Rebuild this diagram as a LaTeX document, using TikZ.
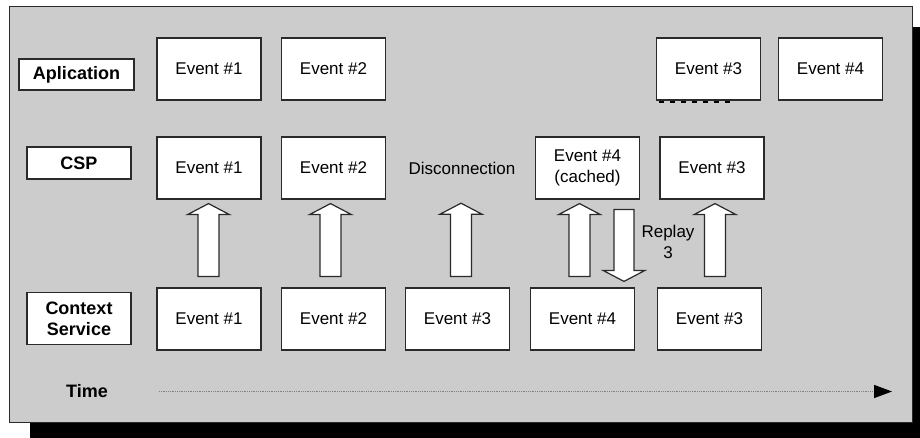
\documentclass[tikz,border=0pt]{standalone}
\usepackage{fontspec}
\setmainfont{Liberation Sans}
\usetikzlibrary{calc,arrows.meta}

\definecolor{panelgray}{HTML}{CCCCCC}
\definecolor{edge}{HTML}{2A2A2A}

\tikzset{
  evbox/.style={draw=edge, fill=white, line width=1.2pt, inner sep=0pt,
    minimum width=104pt, minimum height=62pt, align=center,
    font=\fontsize{17}{20.5}\selectfont},
  lbl/.style={draw=edge, fill=white, line width=1.2pt, inner sep=0pt,
    align=center, font=\fontsize{18}{21}\selectfont\bfseries},
  plaintext/.style={inner sep=0pt, align=center, font=\fontsize{17}{20.5}\selectfont},
  blockarr/.style={draw=edge, fill=white, line width=1.2pt, line join=miter},
  timeline/.style={draw=black!50, line width=1.5pt, dash pattern=on 1pt off 0.8pt,
    -{Triangle[length=18pt,width=13pt,color=black]}},
}

% upward block arrow at horizontal position #1 from node #2 up to node #3
\newcommand{\blkup}[3]{%
  \draw[blockarr] let \p1=(#2.north), \p2=(#3.south) in
    ({#1pt-10.5pt},{\y1+11pt}) -- ({#1pt-10.5pt},{\y2-15pt})
    -- ({#1pt-21pt},{\y2-15pt}) -- ({#1pt},{\y2-4pt})
    -- ({#1pt+21pt},{\y2-15pt}) -- ({#1pt+10.5pt},{\y2-15pt})
    -- ({#1pt+10.5pt},{\y1+11pt}) -- cycle;}

% downward block arrow at horizontal position #1 from node #2 down to node #3
\newcommand{\blkdown}[3]{%
  \draw[blockarr] let \p1=(#2.south), \p2=(#3.north) in
    ({#1pt-10pt},{\y1-10pt}) -- ({#1pt+10pt},{\y1-10pt})
    -- ({#1pt+10pt},{\y2+17pt}) -- ({#1pt+21pt},{\y2+17pt})
    -- ({#1pt},{\y2+6pt}) -- ({#1pt-21pt},{\y2+17pt})
    -- ({#1pt-10pt},{\y2+17pt}) -- cycle;}

\begin{document}
\begin{tikzpicture}[x=1pt, y=-1pt]
  \useasboundingbox (0,0) rectangle (920,438);
  \fill[white] (0,0) rectangle (920,438);

  % drop shadow and grey panel
  \fill[black] (30,27) rectangle (920,438);
  \filldraw[fill=panelgray, draw=edge, line width=1pt] (9,7) rectangle (912,422);

  % row labels
  \node[lbl, minimum width=115pt, minimum height=31pt] (lapp) at (76.5,74.5) {Aplication};
  \node[lbl, minimum width=104pt, minimum height=32pt] (lcsp) at (79,163) {CSP};
  \node[lbl, minimum width=104pt, minimum height=52pt] (lctx) at (79,318.5) {Context\\Service};

  % application row
  \node[evbox] (a1) at (209,69) {Event \#1};
  \node[evbox] (a2) at (333.5,69) {Event \#2};
  \node[evbox] (a3) at (708.5,69) {Event \#3};
  \node[evbox] (a4) at (830.5,69) {Event \#4};
  \draw[black, line width=1.5pt, dash pattern=on 5.5pt off 5.5pt]
    ($(a3.south west)+(3,1.5)$) -- ++(73,0);

  % CSP row
  \node[evbox] (s1) at (209,168) {Event \#1};
  \node[evbox] (s2) at (333.5,168) {Event \#2};
  \node[plaintext, minimum height=62pt] (disc) at (462,168) {Disconnection};
  \node[evbox] (s4) at (587.5,168) {Event \#4\\(cached)};
  \node[evbox] (s3) at (712,168) {Event \#3};

  % context service row
  \node[evbox] (c1) at (209,319) {Event \#1};
  \node[evbox] (c2) at (333.5,319) {Event \#2};
  \node[evbox] (c3) at (457.5,319) {Event \#3};
  \node[evbox] (c4) at (582.5,319) {Event \#4};
  \node[evbox] (c5) at (709.5,319) {Event \#3};

  % event transfers
  \blkup{208.5}{c1}{s1}
  \blkup{330.5}{c2}{s2}
  \blkup{461}{c3}{disc}
  \blkup{579.5}{c4}{s4}
  \blkdown{624}{s4}{c4}
  \blkup{715}{c5}{s3}
  \node[plaintext] (replay) at (668,242) {Replay\\3};

  % time axis
  \node[lbl, draw=none, fill=none] (time) at (87,391) {Time};
  \coordinate (tstart) at (159,391.5);
  \coordinate (tend) at (892,391.5);
  \draw[timeline] (tstart) -- (tend);
\end{tikzpicture}
\end{document}
